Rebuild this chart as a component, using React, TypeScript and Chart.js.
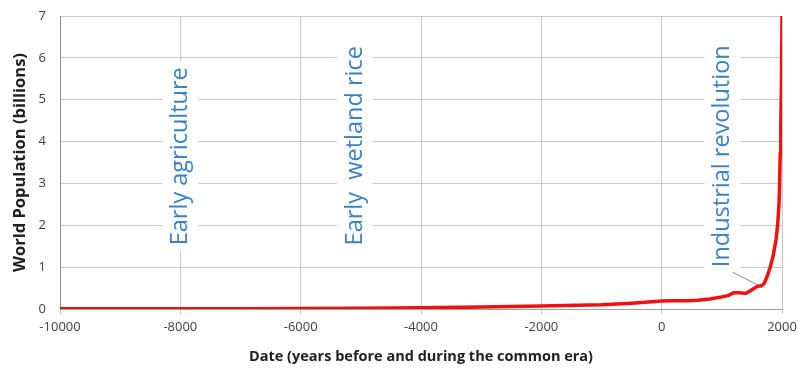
import React, { useEffect, useRef } from "react";
import { Chart, registerables } from "chart.js";

Chart.register(...registerables);

const years = [
  -10000, -9000, -8000, -7000, -6000, -5000, -4000, -3000, -2000, -1000, -500, 0, 200, 400, 600, 800, 1000, 1100,
  1200, 1300, 1400, 1500, 1600, 1650, 1700, 1750, 1800, 1850, 1900, 1927, 1950, 1960, 1970, 1980, 1990, 2000,
];
const population = [
  0.004, 0.005, 0.006, 0.008, 0.012, 0.018, 0.028, 0.045, 0.07, 0.1, 0.14, 0.19, 0.2, 0.2, 0.21, 0.24, 0.29, 0.32,
  0.39, 0.39, 0.37, 0.46, 0.55, 0.55, 0.6, 0.77, 0.98, 1.25, 1.65, 2.0, 2.5, 3.0, 3.7, 4.4, 5.3, 7.0,
];
const xTicks = [-10000, -8000, -6000, -4000, -2000, 0, 2000];
const yTicks = [0, 1, 2, 3, 4, 5, 6, 7];

const annotations = [
  { text: "Early agriculture", x: -8000, y: 3.65 },
  { text: "Early  wetland rice", x: -5100, y: 3.9 },
  { text: "Industrial revolution", x: 1010, y: 3.65 },
];
const leader = { from: [1180, 0.88], to: [1600, 0.57] };

const FONT = "'Open Sans', 'Liberation Sans', sans-serif";

const annotationPlugin = {
  id: "annots",
  afterDatasetsDraw(chart: any) {
    const ctx = chart.ctx;
    const xs = chart.scales.x;
    const ys = chart.scales.y;
    ctx.save();
    ctx.font = `23.5px ${FONT}`;
    for (const a of annotations) {
      const px = xs.getPixelForValue(a.x);
      const py = ys.getPixelForValue(a.y);
      const w = ctx.measureText(a.text).width;
      ctx.save();
      ctx.translate(px, py);
      ctx.rotate(-Math.PI / 2);
      ctx.fillStyle = "#ffffff";
      ctx.fillRect(-w / 2 - 6, -18, w + 12, 36);
      ctx.fillStyle = "#3a82c0";
      ctx.textAlign = "center";
      ctx.textBaseline = "middle";
      ctx.fillText(a.text, 0, 0);
      ctx.restore();
    }
    ctx.strokeStyle = "#7f8c99";
    ctx.lineWidth = 1;
    ctx.beginPath();
    ctx.moveTo(xs.getPixelForValue(leader.from[0]), ys.getPixelForValue(leader.from[1]));
    ctx.lineTo(xs.getPixelForValue(leader.to[0]), ys.getPixelForValue(leader.to[1]));
    ctx.stroke();
    ctx.restore();
  },
};

export default function App() {
  const ref = useRef<HTMLCanvasElement>(null);
  useEffect(() => {
    if (!ref.current) return;
    const chart = new Chart(ref.current, {
      type: "line",
      data: {
        datasets: [
          {
            data: years.map((y, i) => ({ x: y, y: population[i] })),
            borderColor: "#f01010",
            borderWidth: 3.5,
            pointRadius: 0,
            tension: 0,
            fill: false,
          },
        ],
      },
      options: {
        responsive: false,
        animation: false,
        layout: { padding: { left: 0, right: 16, top: 16, bottom: 0 } },
        plugins: { legend: { display: false }, tooltip: { enabled: false } },
        scales: {
          x: {
            type: "linear",
            min: -10000,
            max: 2000,
            afterBuildTicks: (s: any) => {
              s.ticks = xTicks.map((v) => ({ value: v }));
            },
            afterFit: (s: any) => {
              s.height = 61;
              s.paddingRight = 0;
              s.paddingLeft = 0;
            },
            ticks: {
              color: "#404040",
              font: { family: FONT, size: 13 },
              maxRotation: 0,
              padding: 5,
              callback: (v: any) => String(v),
            },
            grid: { color: "#c8c8c8", tickLength: 5, drawTicks: true },
            border: { color: "#a0a0a0" },
            title: {
              display: true,
              text: "Date (years before and during the common era)",
              color: "#202020",
              font: { family: FONT, size: 14.5, weight: "bold" },
              padding: { top: 4 },
            },
          },
          y: {
            type: "linear",
            min: 0,
            max: 7,
            afterBuildTicks: (s: any) => {
              s.ticks = yTicks.map((v) => ({ value: v }));
            },
            afterFit: (s: any) => {
              s.width = 60;
              s.paddingTop = 0;
              s.paddingBottom = 0;
            },
            ticks: {
              color: "#404040",
              font: { family: FONT, size: 13 },
              padding: 14,
              callback: (v: any) => String(v),
            },
            grid: { color: "#c8c8c8", drawTicks: false },
            border: { color: "#909090" },
            title: {
              display: true,
              text: "World Population (billions)",
              color: "#202020",
              font: { family: FONT, size: 16.5, weight: "bold" },
              padding: { top: 10, bottom: 0 },
            },
          },
        },
      },
      plugins: [annotationPlugin],
    });
    return () => chart.destroy();
  }, []);
  return (
    <div style={{ position: "fixed", left: 0, top: 0, width: 798, height: 370, background: "#fff" }}>
      <canvas ref={ref} width={798} height={370} />
    </div>
  );
}
